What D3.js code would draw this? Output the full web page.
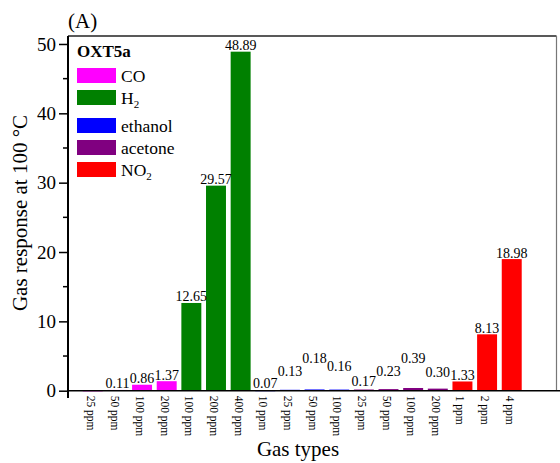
<!DOCTYPE html>
<html>
<head>
<meta charset="utf-8">
<script src="https://cdn.jsdelivr.net/npm/d3@7"></script>
<style>
  body { margin: 0; background: #fff; }
  svg text { font-family: "Liberation Serif", "Times New Roman", serif; fill: #000; }
</style>
</head>
<body>
<svg id="chart" width="560" height="463"></svg>
<script>
// data
const gases = ["CO", "H2", "ethanol", "acetone", "NO2"];
const gasColors = ["#ff00ff", "#008000", "#0000ff", "#800080", "#ff0000"];
const concentrations = [
    ["25 ppm", "50 ppm", "100 ppm", "200 ppm"],
    ["100 ppm", "200 ppm", "400 ppm"],
    ["10 ppm", "25 ppm", "50 ppm", "100 ppm"],
    ["25 ppm", "50 ppm", "100 ppm", "200 ppm"],
    ["1 ppm", "2 ppm", "4 ppm"]
];
const responses = [
    [0.05, 0.11, 0.86, 1.37],
    [12.65, 29.57, 48.89],
    [0.07, 0.13, 0.18, 0.16],
    [0.17, 0.23, 0.39, 0.30],
    [1.33, 8.13, 18.98]
];
const valueLabels = [
    ["", "0.11", "0.86", "1.37"],
    ["12.65", "29.57", "48.89"],
    ["0.07", "0.13", "0.18", "0.16"],
    ["0.17", "0.23", "0.39", "0.30"],
    ["1.33", "8.13", "18.98"]
];
const yTicks = [0, 10, 20, 30, 40, 50];
const yMinorTicks = [5, 15, 25, 35, 45];

// flatten into one row per bar
const rows = [];
gases.forEach((g, gi) => {
    concentrations[gi].forEach((c, ci) => {
        rows.push({ id: gi + "-" + ci, gas: g, gi: gi, conc: c, value: responses[gi][ci], label: valueLabels[gi][ci] });
    });
});

// the labels of the tiny bars are staggered upward in the figure
const labelLift = [0, 0, 0, 0, 0, 0, 0, 0, 12, 25, 17, 2, 12, 23, 10, 0, 0, 0];

const svg = d3.select("#chart");
const plotL = 68, plotR = 556.5, plotT = 36, plotB = 390.7;

const x = d3.scaleBand()
    .domain(rows.map(d => d.id))
    .range([plotL, 536.5])
    .paddingInner(0.19)
    .paddingOuter(0.6);

const y = d3.scaleLinear()
    .domain([0, 51.15])
    .range([plotB, plotT]);

// frame
svg.append("line").attr("x1", plotL).attr("x2", plotR).attr("y1", plotT).attr("y2", plotT)
    .attr("stroke", "#222").attr("stroke-width", 1.6);
svg.append("line").attr("x1", plotR).attr("x2", plotR).attr("y1", plotT).attr("y2", plotB)
    .attr("stroke", "#777").attr("stroke-width", 1.2);

// bars
svg.selectAll(".bar")
    .data(rows)
    .join("rect")
    .attr("class", "bar")
    .attr("x", d => x(d.id))
    .attr("width", x.bandwidth())
    .attr("y", d => y(d.value))
    .attr("height", d => Math.max(1, plotB - y(d.value)))
    .attr("fill", d => gasColors[d.gi]);

// value labels
svg.selectAll(".val")
    .data(rows.filter(d => d.label !== ""))
    .join("text")
    .attr("class", "val")
    .attr("x", d => x(d.id) + x.bandwidth() / 2)
    .attr("y", d => Math.min(y(d.value), plotB - 1) - 1.5 - labelLift[rows.indexOf(d)])
    .attr("text-anchor", "middle")
    .attr("font-size", 14)
    .text(d => d.label);

// y axis
const yAxis = svg.append("g").attr("transform", `translate(${plotL},0)`)
    .call(d3.axisLeft(y).tickValues(yTicks).tickSize(9).tickPadding(3).tickFormat(d3.format("d")));
yAxis.select(".domain").remove();
yAxis.selectAll("line").attr("stroke", "#000").attr("stroke-width", 1.5);
yAxis.selectAll("text").attr("font-size", 19).attr("font-family", "Liberation Serif");
svg.append("g").selectAll("line")
    .data(yMinorTicks)
    .join("line")
    .attr("x1", plotL - 5).attr("x2", plotL)
    .attr("y1", d => y(d)).attr("y2", d => y(d))
    .attr("stroke", "#000").attr("stroke-width", 1.5);

svg.append("line").attr("x1", plotL).attr("x2", plotL).attr("y1", plotT).attr("y2", 398)
    .attr("stroke", "#000").attr("stroke-width", 2);
svg.append("line").attr("x1", plotL - 1).attr("x2", 560).attr("y1", plotB).attr("y2", plotB)
    .attr("stroke", "#000").attr("stroke-width", 1.6);

// x tick labels, rotated
svg.selectAll(".xlab")
    .data(rows)
    .join("text")
    .attr("class", "xlab")
    .attr("transform", d => `translate(${x(d.id) + x.bandwidth() / 2 - 6},${plotB + 5}) rotate(90)`)
    .attr("font-size", 11.5)
    .text(d => d.conc);

// titles
svg.append("text")
    .attr("transform", `translate(27,213) rotate(-90)`)
    .attr("text-anchor", "middle")
    .attr("font-size", 21)
    .text("Gas response at 100 °C");
svg.append("text")
    .attr("x", 298).attr("y", 456)
    .attr("text-anchor", "middle")
    .attr("font-size", 21)
    .text("Gas types");
svg.append("text")
    .attr("x", 68).attr("y", 28)
    .attr("font-size", 21)
    .text("(A)");

// legend
const legend = svg.append("g");
legend.append("text").attr("x", 77).attr("y", 57)
    .attr("font-size", 17).attr("font-weight", "bold").text("OXT5a");
const item = legend.selectAll(".item")
    .data(gases)
    .join("g")
    .attr("class", "item")
    .attr("transform", (d, i) => `translate(77,${68 + i * 22 + (i >= 2 ? 6 : 0)})`);
item.append("rect")
    .attr("width", 39).attr("height", 15)
    .attr("fill", (d, i) => gasColors[i]);
item.append("text")
    .attr("x", 44).attr("y", 14)
    .attr("font-size", 17.5)
    .each(function (d) {
        const t = d3.select(this);
        if (d.endsWith("2")) {
            t.append("tspan").text(d.slice(0, -1));
            t.append("tspan").attr("font-size", 11).attr("dy", 4).text("2");
        } else {
            t.text(d);
        }
    });
</script>
</body>
</html>
